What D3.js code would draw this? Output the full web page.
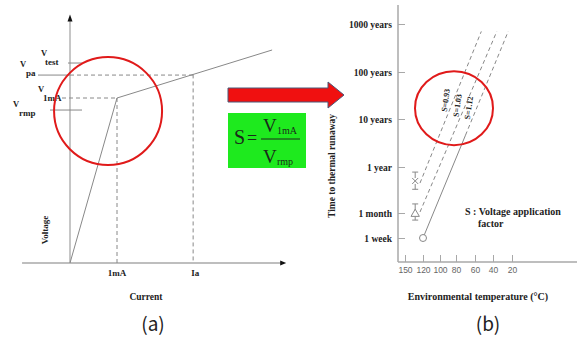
<!DOCTYPE html>
<html><head><meta charset="utf-8">
<script src="https://cdn.jsdelivr.net/npm/d3@7"></script>
<style>body{margin:0;background:#fff}svg{display:block}</style>
</head><body>
<svg id="c" width="577" height="339"></svg>
<script>
// ---------- DATA: panel (a) ----------
const viCurrent = [0, 1, 4.3];            // current (units of 1 mA)
const viVoltage = [0, 1, 1.291];          // voltage (units of V1mA)
const currentTickLabels = ["1mA", "Ia"];
const currentTickValues = [1, 2.62];
const voltageSubs = ["test", "pa", "1mA", "rmp"];
const voltageValues = [1.212, 1.139, 1.0, 0.927];

// ---------- DATA: panel (b) ----------
const timeTickLabels = ["1000 years", "100 years", "10 years", "1 year", "1 month", "1 week"];
const timeTickValues = [1000, 100, 10, 1, 1/12, 1/52];      // years
const tempTicks = [150, 120, 100, 80, 60, 40, 20];          // °C
const sLabels = ["S=0.93", "S=1.03", "S=1.12"];
const lineStartT = [125, 125, 120];
const lineStartY = [0.42, 0.088, 1/52];
const lineSolidEndT = [null, null, 70];
const lineSolidEndY = [null, null, 4.6];
const lineEndT = [53, 36, 24];
const lineEndY = [700, 700, 700];
const markerShapes = ["x", "triangle", "circle"];
const markerT = [133, 133, 120];
const markerY = [0.47, 0.0787, 1/52];
const errHi = [0.76, 0.136, null];
const errLo = [0.30, 0.055, null];

// ---------- drawing ----------
const svg = d3.select("#c");
const serif = "'Liberation Serif','DejaVu Serif',serif";
const ink = "#222";
const grey = "#888";
const axisGrey = "#a8a8a8";

// ===== Panel (a) =====
const xA = d3.scaleLinear().domain([0, 1]).range([70, 117]);
const yA = d3.scaleLinear().domain([0, 1]).range([263, 98]);
const vAt = d3.scaleLinear().domain(viCurrent).range(viVoltage);
const gA = svg.append("g");

// axes
gA.append("line").attr("x1", xA(-1.02)).attr("x2", xA(4.55)).attr("y1", yA(0)).attr("y2", yA(0))
  .attr("stroke", axisGrey).attr("stroke-width", 1.3);
gA.append("line").attr("x1", xA(0)).attr("x2", xA(0)).attr("y1", yA(0)).attr("y2", yA(1.47))
  .attr("stroke", axisGrey).attr("stroke-width", 1.3);
// arrow heads
{
  const tx = xA(4.6), ty = yA(0);
  gA.append("path").attr("d", `M${tx},${ty} L${tx-6},${ty-2.5} L${tx-6},${ty+2.5} Z`).attr("fill", "#111");
  const ux = xA(0), uy = yA(1.506);
  gA.append("path").attr("d", `M${ux},${uy} L${ux-2.5},${uy+7} L${ux+2.5},${uy+7} Z`).attr("fill", "#111");
}

// V-I curve
gA.append("path")
  .attr("d", d3.line().x((d, i) => xA(viCurrent[i])).y((d, i) => yA(viVoltage[i]))(viCurrent))
  .attr("fill", "none").attr("stroke", grey).attr("stroke-width", 1);

// vertical dashed guides
currentTickValues.forEach((c, i) => {
  gA.append("line").attr("x1", xA(c)).attr("x2", xA(c)).attr("y1", yA(vAt(c))).attr("y2", yA(0))
    .attr("stroke", grey).attr("stroke-width", 1).attr("stroke-dasharray", "4,3");
  gA.append("text").attr("x", xA(c) + (i === 1 ? 2 : 0)).attr("y", yA(0) + 13)
    .attr("text-anchor", "middle").attr("font-family", serif).attr("font-weight", "bold")
    .attr("font-size", 9).attr("fill", ink).text(currentTickLabels[i]);
});

// horizontal guides
const x0 = xA(0);
const hl = (xa, xb, y, dash) => gA.append("line").attr("x1", xa).attr("x2", xb).attr("y1", y).attr("y2", y)
  .attr("stroke", grey).attr("stroke-width", 1).attr("stroke-dasharray", dash ? "4,3" : null);
// Vtest
hl(x0 - 2, x0 + 12, yA(voltageValues[0]), false);
// Vpa
hl(x0 - 32, x0, yA(voltageValues[1]), false);
hl(x0, xA(currentTickValues[1]), yA(voltageValues[1]), true);
// V1mA
hl(x0 - 8, xA(currentTickValues[0]), yA(voltageValues[2]), true);
// Vrmp
hl(x0 - 20, x0 + 12, yA(voltageValues[3]), false);

// voltage labels
const vLabX = [41, 20, 38, 13];
const subX = [45, 26, 43, 19];
const subDy = [2, 1, 3, 6];
voltageValues.forEach((v, i) => {
  const yb = yA(v) + subDy[i];
  gA.append("text").attr("x", vLabX[i]).attr("y", yb - 9).attr("font-family", serif)
    .attr("font-weight", "bold").attr("font-size", 8.5).attr("fill", ink).text("V");
  gA.append("text").attr("x", subX[i]).attr("y", yb).attr("font-family", serif)
    .attr("font-weight", "bold").attr("font-size", 9).attr("fill", ink).text(voltageSubs[i]);
});

// axis titles
gA.append("text").attr("x", 146).attr("y", 300).attr("text-anchor", "middle")
  .attr("font-family", serif).attr("font-weight", "bold").attr("font-size", 9.5).attr("fill", ink).text("Current");
gA.append("text").attr("transform", "translate(48,230) rotate(-90)").attr("text-anchor", "middle")
  .attr("font-family", serif).attr("font-weight", "bold").attr("font-size", 9).attr("fill", ink).text("Voltage");

// red circle
gA.append("circle").attr("cx", xA(0.81)).attr("cy", yA(0.921)).attr("r", 54)
  .attr("fill", "none").attr("stroke", "#e01a1a").attr("stroke-width", 2);

// ===== Middle: arrow + formula =====
svg.append("path")
  .attr("d", "M228,88 L328,88 L328,82 L344,95 L328,108 L328,102 L228,102 Z")
  .attr("fill", "#f01010").attr("stroke", "#4a5878").attr("stroke-width", 1);
svg.append("rect").attr("x", 228).attr("y", 113).attr("width", 78).attr("height", 55).attr("fill", "#1eea1e");
const fm = svg.append("g").attr("font-family", serif).attr("fill", "#1a2a1a");
fm.append("text").attr("x", 234).attr("y", 144).attr("font-size", 20).text("S");
fm.append("text").attr("x", 247).attr("y", 144).attr("font-size", 18).text("=");
fm.append("line").attr("x1", 261).attr("x2", 300).attr("y1", 139).attr("y2", 139).attr("stroke", "#1a2a1a").attr("stroke-width", 1);
fm.append("text").attr("x", 263).attr("y", 132).attr("font-size", 19).text("V");
fm.append("text").attr("x", 277).attr("y", 134).attr("font-size", 10).text("1mA");
fm.append("text").attr("x", 263).attr("y", 163).attr("font-size", 19).text("V");
fm.append("text").attr("x", 277).attr("y", 165).attr("font-size", 10).text("rmp");

// ===== Panel (b) =====
const xB = d3.scaleLinear().domain(tempTicks).range([405, 423, 440, 456, 475, 493, 512]);
const yB = d3.scaleLog().domain(timeTickValues.slice().reverse()).range([238, 213, 167, 119, 72, 24]);
const gB = svg.append("g");

// axis lines
gB.append("line").attr("x1", 398).attr("x2", 577).attr("y1", 262).attr("y2", 262)
  .attr("stroke", axisGrey).attr("stroke-width", 1.5);
gB.append("line").attr("x1", 398).attr("x2", 398).attr("y1", 5).attr("y2", 262)
  .attr("stroke", axisGrey).attr("stroke-width", 1.5);

const yAx = gB.append("g").attr("transform", "translate(398,0)")
  .call(d3.axisLeft(yB).tickValues(timeTickValues).tickFormat((d, i) => timeTickLabels[i])
    .tickSizeInner(-7).tickSizeOuter(0).tickPadding(6));
yAx.select(".domain").remove();
yAx.selectAll("line").attr("stroke", axisGrey);
yAx.selectAll("text").attr("font-family", serif).attr("font-weight", "bold").attr("font-size", 9.5).attr("fill", ink);

const xAx = gB.append("g").attr("transform", "translate(0,262)")
  .call(d3.axisBottom(xB).tickValues(tempTicks).tickFormat(d3.format("d"))
    .tickSizeInner(-7).tickSizeOuter(0).tickPadding(5));
xAx.select(".domain").remove();
xAx.selectAll("line").attr("stroke", axisGrey);
xAx.selectAll("text").attr("font-family", "'Liberation Sans',Arial,sans-serif").attr("font-size", 8.5).attr("fill", "#666");

// life lines
sLabels.forEach((s, i) => {
  const p0 = [xB(lineStartT[i]), yB(lineStartY[i])];
  const p1 = [xB(lineEndT[i]), yB(lineEndY[i])];
  if (lineSolidEndT[i] !== null) {
    const pm = [xB(lineSolidEndT[i]), yB(lineSolidEndY[i])];
    gB.append("line").attr("x1", p0[0]).attr("y1", p0[1]).attr("x2", pm[0]).attr("y2", pm[1])
      .attr("stroke", grey).attr("stroke-width", 1);
    gB.append("line").attr("x1", pm[0]).attr("y1", pm[1]).attr("x2", p1[0]).attr("y2", p1[1])
      .attr("stroke", grey).attr("stroke-width", 1).attr("stroke-dasharray", "4,3");
  } else {
    gB.append("line").attr("x1", p0[0]).attr("y1", p0[1]).attr("x2", p1[0]).attr("y2", p1[1])
      .attr("stroke", grey).attr("stroke-width", 1).attr("stroke-dasharray", "4,3");
  }
});

// S labels beside lines
const labT = [0.546, 0.59, 0.63];
sLabels.forEach((s, i) => {
  const p0 = [xB(lineStartT[i]), yB(lineStartY[i])];
  const p1 = [xB(lineEndT[i]), yB(lineEndY[i])];
  const lx = p0[0] + (p1[0] - p0[0]) * labT[i] - 8;
  const ly = p0[1] + (p1[1] - p0[1]) * labT[i];
  gB.append("text").attr("transform", `translate(${lx},${ly}) rotate(-82)`)
    .attr("text-anchor", "middle").attr("dy", "0.35em")
    .attr("font-family", serif).attr("font-weight", "bold").attr("font-size", 8).attr("fill", ink).text(s);
});

// markers with error bars
markerShapes.forEach((m, i) => {
  const x = xB(markerT[i]), y = yB(markerY[i]);
  if (errHi[i] !== null) {
    const yh = yB(errHi[i]), yl = yB(errLo[i]);
    gB.append("line").attr("x1", x).attr("x2", x).attr("y1", yh).attr("y2", yl).attr("stroke", grey);
    gB.append("line").attr("x1", x - 3).attr("x2", x + 3).attr("y1", yh).attr("y2", yh).attr("stroke", grey);
    gB.append("line").attr("x1", x - 3).attr("x2", x + 3).attr("y1", yl).attr("y2", yl).attr("stroke", grey);
  }
  if (m === "x") {
    gB.append("rect").attr("x", x - 3).attr("y", y - 3).attr("width", 6).attr("height", 6).attr("fill", "#fff");
    gB.append("path").attr("d", `M${x-3},${y-3}L${x+3},${y+3}M${x-3},${y+3}L${x+3},${y-3}`).attr("stroke", grey).attr("stroke-width", 1);
  } else if (m === "triangle") {
    gB.append("path").attr("transform", `translate(${x},${y})`)
      .attr("d", d3.symbol(d3.symbolTriangle, 30)()).attr("fill", "#fff").attr("stroke", grey);
  } else {
    gB.append("circle").attr("cx", x).attr("cy", y).attr("r", 3.5).attr("fill", "#fff").attr("stroke", grey);
  }
});

// annotation text
gB.append("text").attr("x", 465).attr("y", 215).attr("font-family", serif).attr("font-weight", "bold")
  .attr("font-size", 10).attr("fill", ink).text("S : Voltage application");
gB.append("text").attr("x", 478).attr("y", 227).attr("font-family", serif).attr("font-weight", "bold")
  .attr("font-size", 10).attr("fill", ink).text("factor");

// axis titles
gB.append("text").attr("x", 478).attr("y", 300).attr("text-anchor", "middle")
  .attr("font-family", serif).attr("font-weight", "bold").attr("font-size", 10).attr("fill", ink)
  .text("Environmental temperature (°C)");
gB.append("text").attr("transform", "translate(335,166) rotate(-90)").attr("text-anchor", "middle")
  .attr("font-family", serif).attr("font-weight", "bold").attr("font-size", 9.5).attr("fill", ink)
  .text("Time to thermal runaway");

// red ellipse
gB.append("ellipse").attr("cx", xB(82.5)).attr("cy", yB(17)).attr("rx", 39).attr("ry", 37)
  .attr("fill", "none").attr("stroke", "#e01a1a").attr("stroke-width", 2);

// panel captions
const cap = "'Noto Sans CJK KR','Noto Sans',sans-serif";
svg.append("text").attr("x", 153).attr("y", 331).attr("text-anchor", "middle").attr("font-family", cap)
  .attr("font-size", 19).attr("fill", ink).text("(a)");
svg.append("text").attr("x", 488).attr("y", 331).attr("text-anchor", "middle").attr("font-family", cap)
  .attr("font-size", 19).attr("fill", ink).text("(b)");
</script>
</body></html>
